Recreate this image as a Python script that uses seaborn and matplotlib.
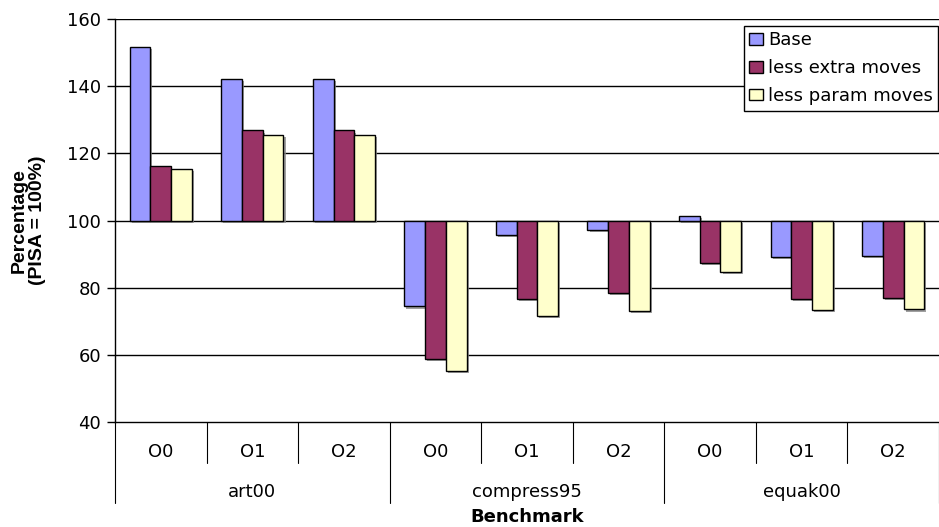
import numpy as np
import pandas as pd
import seaborn as sns
import matplotlib.pyplot as plt
from matplotlib import patheffects as pe
from matplotlib.patches import Patch
from matplotlib.ticker import FixedLocator

benchmarks = ["art00", "compress95", "equak00"]
levels = ["O0", "O1", "O2"]
series = ["Base", "less extra moves", "less param moves"]

base = [151.6, 142.1, 142.1, 74.4, 95.7, 97.3, 101.3, 89.1, 89.4]
less_extra = [116.1, 126.8, 126.8, 58.8, 76.7, 78.4, 87.3, 76.7, 77.0]
less_param = [115.3, 125.4, 125.4, 55.1, 71.5, 73.0, 84.8, 73.3, 73.5]

colors = ["#9999FF", "#993366", "#FFFFCC"]

cats = [f"{b} {o}" for b in benchmarks for o in levels]
df = pd.DataFrame({
    "cat": cats * 3,
    "series": np.repeat(series, len(cats)),
    "value": base + less_extra + less_param,
})
# bars start at the 100% line
df["delta"] = df["value"] - 100

sns.set_theme(style="white")
plt.rcParams["font.family"] = ["DejaVu Sans"]
plt.rcParams["text.color"] = "black"
plt.rcParams["axes.labelcolor"] = "black"
plt.rcParams["ytick.color"] = "black"
fs = 13

fig = plt.figure(figsize=(9.39, 5.27), dpi=100)
ax = fig.add_axes([115 / 939, 1 - 422 / 527, 1 - 115 / 939, 403 / 527])

sns.barplot(data=df, x="cat", y="delta", hue="series", palette=colors,
            width=0.68, edgecolor="black", linewidth=1.0, bottom=100, ax=ax,
            saturation=1, legend=False,
            path_effects=[pe.SimplePatchShadow(offset=(1.5, -1.5), shadow_rgbFace="#888888", alpha=0.8),
                          pe.Normal()])

ax.set_ylim(40, 160)
ax.yaxis.set_major_locator(FixedLocator(np.arange(40, 161, 20)))
ax.set_xlim(-0.5, len(cats) - 0.5)
for v in range(60, 161, 20):
    ax.axhline(v, color="black", linewidth=1.0, zorder=0.5)

for s in ["top", "right"]:
    ax.spines[s].set_visible(False)
ax.spines["left"].set_color("black")
ax.spines["bottom"].set_color("black")
ax.spines["left"].set_linewidth(1.0)
ax.spines["bottom"].set_linewidth(1.0)
ax.tick_params(axis="y", left=True, length=6, width=1, color="black", labelsize=fs,
               labelcolor="black", pad=4)
ax.tick_params(axis="x", bottom=False, labelbottom=False)
ax.set_xlabel("")
ax.set_ylabel("")
ax.text(-0.105, 0.5, "Percentage\n(PISA = 100%)", transform=ax.transAxes, rotation=90,
        ha="center", va="center", fontsize=14, fontweight="bold", linespacing=1.1,
        color="black", family=["Liberation Sans", "DejaVu Sans"])

# two-level category axis
tr = ax.get_xaxis_transform()
for i, c in enumerate(cats):
    ax.text(i, -0.074, c.split(" ")[1], transform=tr, ha="center", va="center", fontsize=fs)
for i in range(len(cats) + 1):
    bottom_y = -0.201 if i % 3 == 0 else -0.102
    ax.plot([i - 0.5, i - 0.5], [0, bottom_y], transform=tr, color="black",
            linewidth=0.8, clip_on=False)
for j, b in enumerate(benchmarks):
    ax.text(j * 3 + 1, -0.173, b, transform=tr, ha="center", va="center", fontsize=fs)
ax.text(len(cats) / 2 - 0.5, -0.236, "Benchmark", transform=tr, ha="center", va="center",
        fontsize=fs, fontweight="bold")

handles = [Patch(facecolor=c, edgecolor="black", linewidth=1.0) for c in colors]
leg = ax.legend(handles, series, loc="upper right", bbox_to_anchor=(0.999, 0.983),
                fontsize=fs, frameon=True, fancybox=False, framealpha=1,
                edgecolor="black", handlelength=0.8, handleheight=0.6,
                handletextpad=0.25, labelspacing=0.55, borderpad=0.3, borderaxespad=0.0)
leg.get_frame().set_linewidth(1.0)

fig.savefig("out.png", dpi=100)
plt.close(fig)
